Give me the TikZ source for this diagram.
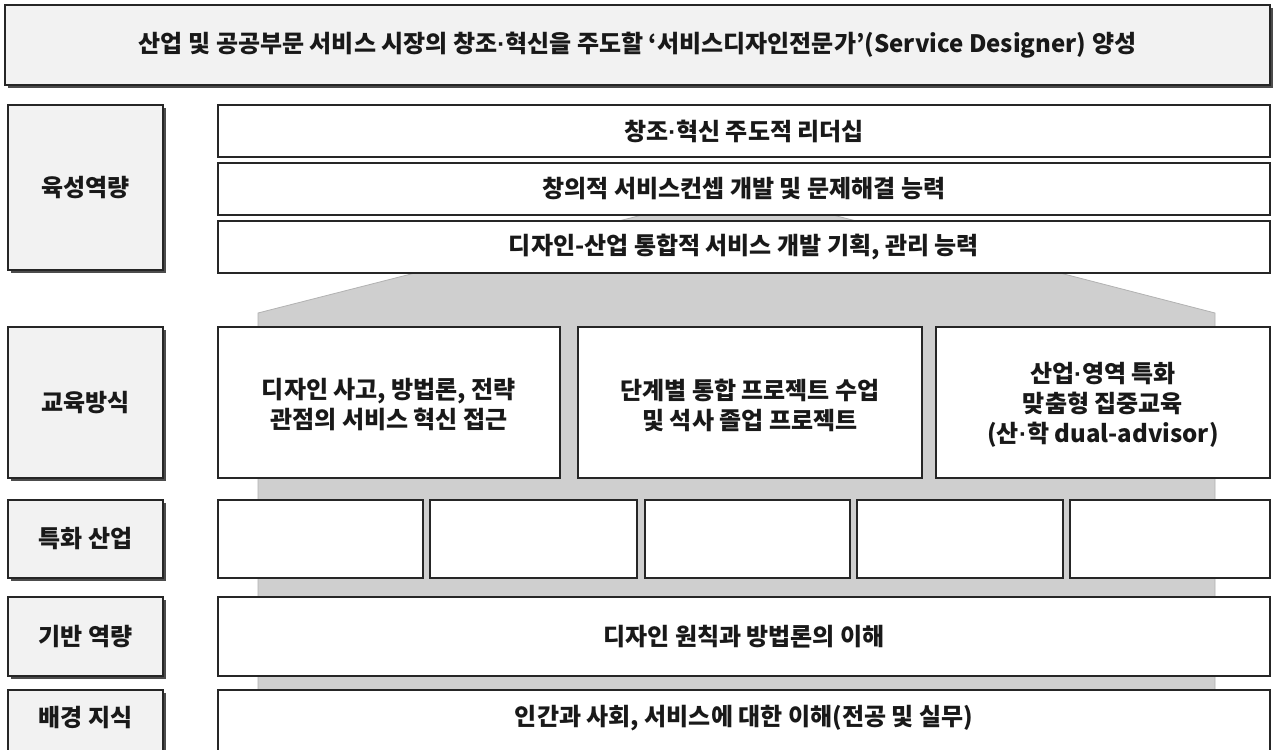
\documentclass[tikz,border=0pt]{standalone}
\usepackage{fontspec}
\setmainfont{Noto Sans CJK KR}
\newfontfamily\dotfont{Liberation Sans}
\newcommand{\md}{{\dotfont\bfseries ·}}
\usetikzlibrary{shadows}
\tikzset{
  x=1pt,y=-1pt,
  txt/.style={font=\fontsize{24}{30}\selectfont\bfseries, align=center, text=black!90},
  lbl/.style={draw=black!85, line width=1.1pt, fill=gray!10, txt, inner sep=0pt,
     drop shadow={shadow xshift=3pt, shadow yshift=-3pt, fill=black!70, opacity=1}},
  wbox/.style={draw=black!85, line width=1.1pt, fill=white, txt, inner sep=0pt},
  house/.style={fill=gray!38, draw=gray!60, line width=0.8pt}
}
\begin{document}
\begin{tikzpicture}
\fill[white] (0,0) rectangle (1275,750);
\useasboundingbox (0,0) rectangle (1275,750);
\clip (0,0) rectangle (1275,750);
% gray house
\path[house] (258,690) -- (258,313) -- (415,273) -- (650,213) -- (825,213) -- (1060,273) -- (1215,313) -- (1215,690) -- cycle;
% banner
\node[lbl, minimum width=1265pt, minimum height=80pt] (top) at (637.5,45)
  {산업 및 공공부문 서비스 시장의 창조\md 혁신을 주도할 ‘서비스디자인전문가’(Service Designer) 양성};
% left labels
\node[lbl, minimum width=155pt, minimum height=165pt] (l1) at (85.5,187.5) {육성역량};
\node[lbl, minimum width=155pt, minimum height=151pt] (l2) at (85.5,402.5) {교육방식};
\node[lbl, minimum width=155pt, minimum height=78pt] (l3) at (85.5,539) {특화 산업};
\node[lbl, minimum width=155pt, minimum height=79pt] (l4) at (85.5,636.5) {기반 역량};
\node[lbl, minimum width=155pt, minimum height=80pt] (l5) at (85.5,730) {};
\node[txt] (l5t) at (85.5,718) {배경 지식};
% competencies
\node[wbox, minimum width=1052pt, minimum height=52pt] (r1) at (744,131) {창조\md 혁신 주도적 리더십};
\node[wbox, minimum width=1052pt, minimum height=52pt] (r2) at (744,189) {창의적 서비스컨셉 개발 및 문제해결 능력};
\node[wbox, minimum width=1052pt, minimum height=52pt] (r3) at (744,247) {디자인-산업 통합적 서비스 개발 기획, 관리 능력};
% education
\node[wbox, minimum width=342pt, minimum height=151pt] (e1) at (389,402.5) {};
\node[txt] (e1t) at (389,405) {디자인 사고, 방법론, 전략\\관점의 서비스 혁신 접근};
\node[wbox, minimum width=344pt, minimum height=151pt] (e2) at (750,402.5) {};
\node[txt] (e2t) at (750,405) {단계별 통합 프로젝트 수업\\및 석사 졸업 프로젝트};
\node[wbox, minimum width=334pt, minimum height=151pt] (e3) at (1103,402.5) {};
\node[txt] (e3t) at (1103,405) {산업\md 영역 특화\\맞춤형 집중교육\\(산\md 학 dual-advisor)};
% specialized industries
\node[wbox, minimum width=205pt, minimum height=78pt] (s1) at (320.5,539) {};
\node[wbox, minimum width=207pt, minimum height=78pt] (s2) at (533.5,539) {};
\node[wbox, minimum width=205pt, minimum height=78pt] (s3) at (747.5,539) {};
\node[wbox, minimum width=206pt, minimum height=78pt] (s4) at (960,539) {};
\node[wbox, minimum width=200pt, minimum height=78pt] (s5) at (1170,539) {};
% base
\node[wbox, minimum width=1052pt, minimum height=79pt] (b1) at (744,636.5) {디자인 원칙과 방법론의 이해};
\node[wbox, minimum width=1052pt, minimum height=80pt] (g1) at (744,730) {};
\node[txt] (g1t) at (744,718) {인간과 사회, 서비스에 대한 이해(전공 및 실무)};
\end{tikzpicture}
\end{document}
